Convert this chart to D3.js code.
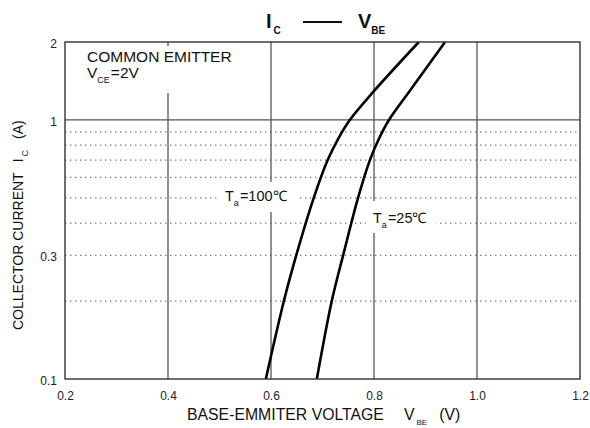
<!DOCTYPE html>
<html>
<head>
<meta charset="utf-8">
<script src="https://cdn.jsdelivr.net/npm/d3@7"></script>
<style>
  html, body { margin: 0; padding: 0; background: #fff; }
  svg { display: block; font-family: "Liberation Sans", Arial, sans-serif; }
</style>
</head>
<body>
<svg id="chart" width="590" height="428"></svg>
<script>
// I_C vs V_BE characteristic, common-emitter, V_CE = 2 V
const xTicks = [0.2, 0.4, 0.6, 0.8, 1.0, 1.2];
const xGrid = [0.4, 0.6, 0.8, 1.0];
const yTickLabels = [0.1, 0.3, 1, 2];
const yMinorGrid = [0.2, 0.3, 0.4, 0.5, 0.6, 0.7, 0.8, 0.9];

// Ta = 100 °C
const current100 = [0.1, 0.2, 0.3, 0.5, 0.7, 0.85, 1.0, 1.3, 2.0];
const vbe100     = [0.590, 0.625, 0.649, 0.683, 0.710, 0.731, 0.753, 0.801, 0.887];
// Ta = 25 °C
const current25  = [0.1, 0.2, 0.3, 0.5, 0.7, 0.85, 1.0, 1.3, 2.0];
const vbe25      = [0.689, 0.718, 0.740, 0.769, 0.792, 0.810, 0.829, 0.870, 0.938];

const svg = d3.select("#chart");
const margin = { left: 65, right: 10, top: 42, bottom: 49 };
const W = 590, H = 428;

const x = d3.scaleLinear().domain([0.2, 1.2]).range([margin.left, W - margin.right]);
const y = d3.scaleLog().domain([0.1, 2]).range([H - margin.bottom, margin.top]);

const gridColor = "#555";

// dotted minor current lines
svg.append("g").selectAll("line").data(yMinorGrid).join("line")
  .attr("x1", x(0.2)).attr("x2", x(1.2))
  .attr("y1", d => y(d)).attr("y2", d => y(d))
  .attr("stroke", "#777").attr("stroke-width", 1.2)
  .attr("stroke-dasharray", "1.4,3.6");

// solid voltage grid
svg.append("g").selectAll("line").data(xGrid).join("line")
  .attr("x1", d => x(d)).attr("x2", d => x(d))
  .attr("y1", y(2)).attr("y2", y(0.1))
  .attr("stroke", gridColor).attr("stroke-width", 1.3);

// solid line at 1 A
svg.append("line")
  .attr("x1", x(0.2)).attr("x2", x(1.2)).attr("y1", y(1)).attr("y2", y(1))
  .attr("stroke", gridColor).attr("stroke-width", 1.3);

// label boxes (white background cuts the grid)
const boxes = svg.append("g");

// curves
const line = d3.line()
  .x(d => x(d[0]))
  .y(d => y(d[1]))
  .curve(d3.curveCatmullRom.alpha(0.5));

const series = [
  d3.zip(vbe100, current100),
  d3.zip(vbe25, current25)
];
svg.append("g").selectAll("path").data(series).join("path")
  .attr("d", line)
  .attr("fill", "none").attr("stroke", "#000").attr("stroke-width", 2.6)
  .attr("stroke-linejoin", "round");

// frame
svg.append("rect")
  .attr("x", x(0.2)).attr("y", y(2))
  .attr("width", x(1.2) - x(0.2)).attr("height", y(0.1) - y(2))
  .attr("fill", "none").attr("stroke", "#333").attr("stroke-width", 1.4);

// axes (labels only)
const xAxis = svg.append("g")
  .attr("transform", `translate(0,${y(0.1)})`)
  .call(d3.axisBottom(x).tickValues(xTicks).tickSize(0).tickPadding(12)
        .tickFormat(d3.format(".1f")));
xAxis.select(".domain").remove();
xAxis.selectAll("text").attr("font-size", 12).attr("fill", "#222")
  .attr("font-family", "Liberation Sans, Arial, sans-serif");

const yAxis = svg.append("g")
  .attr("transform", `translate(${x(0.2)},0)`)
  .call(d3.axisLeft(y).tickValues(yTickLabels).tickSize(0).tickPadding(8)
        .tickFormat(d => String(d)));
yAxis.select(".domain").remove();
yAxis.selectAll("text").attr("font-size", 12).attr("fill", "#222")
  .attr("font-family", "Liberation Sans, Arial, sans-serif")
  .attr("dy", "0.45em");

// helper for text with subscript
function subText(g, parts, attrs) {
  const t = g.append("text");
  Object.entries(attrs).forEach(([k, v]) => t.attr(k, v));
  parts.forEach(p => {
    const ts = t.append("tspan").text(p.text);
    if (p.sub) ts.attr("font-size", p.size).attr("dy", p.dy);
    else if (p.dy) ts.attr("dy", p.dy);
    if (p.dx) ts.attr("dx", p.dx);
  });
  return t;
}

// annotation: COMMON EMITTER
boxes.append("rect").attr("x", 80).attr("y", 46).attr("width", 165).attr("height", 47).attr("fill", "#fff");
svg.append("text").attr("x", 87).attr("y", 62).attr("font-size", 15.5).attr("fill", "#111")
  .text("COMMON EMITTER");
subText(svg, [
  { text: "V" },
  { text: "CE", sub: true, size: 9, dy: 5 },
  { text: "=2V", dy: -5, dx: 1 }
], { x: 87, y: 78, "font-size": 15.5, fill: "#111" });

// curve labels
boxes.append("rect").attr("x", 218).attr("y", 182).attr("width", 82).attr("height", 30).attr("fill", "#fff");
subText(svg, [
  { text: "T" },
  { text: "a", sub: true, size: 9, dy: 5 },
  { text: "=100℃", dy: -5, dx: 1 }
], { x: 225, y: 201, "font-size": 14.5, fill: "#111" });

boxes.append("rect").attr("x", 366).attr("y", 201).attr("width", 70).attr("height", 32).attr("fill", "#fff");
subText(svg, [
  { text: "T" },
  { text: "a", sub: true, size: 9, dy: 5 },
  { text: "=25℃", dy: -5, dx: 1 }
], { x: 373, y: 223, "font-size": 14.5, fill: "#111" });

// title
const title = svg.append("g").attr("font-weight", "bold").attr("fill", "#111");
subText(title, [
  { text: "I" },
  { text: "C", sub: true, size: 10, dy: 6, dx: 2 }
], { x: 266, y: 28, "font-size": 20 });
title.append("line").attr("x1", 303).attr("x2", 342).attr("y1", 22).attr("y2", 22)
  .attr("stroke", "#111").attr("stroke-width", 2);
subText(title, [
  { text: "V" },
  { text: "BE", sub: true, size: 10, dy: 6 }
], { x: 358, y: 28, "font-size": 20 });

// axis titles
subText(svg, [
  { text: "BASE-EMMITER VOLTAGE" },
  { text: "V", dx: 20 },
  { text: "BE", sub: true, size: 8, dy: 5, dx: 2 },
  { text: "(V)", dy: -5, dx: 12 }
], { x: 187, y: 420, "font-size": 15.8, fill: "#111" });

subText(svg, [
  { text: "COLLECTOR CURRENT" },
  { text: "I", dx: 10 },
  { text: "C", sub: true, size: 9, dy: 5, dx: 2 },
  { text: "(A)", dy: -5, dx: 11 }
], { "font-size": 14, fill: "#111",
     transform: "translate(23,330) rotate(-90)" });
</script>
</body>
</html>
